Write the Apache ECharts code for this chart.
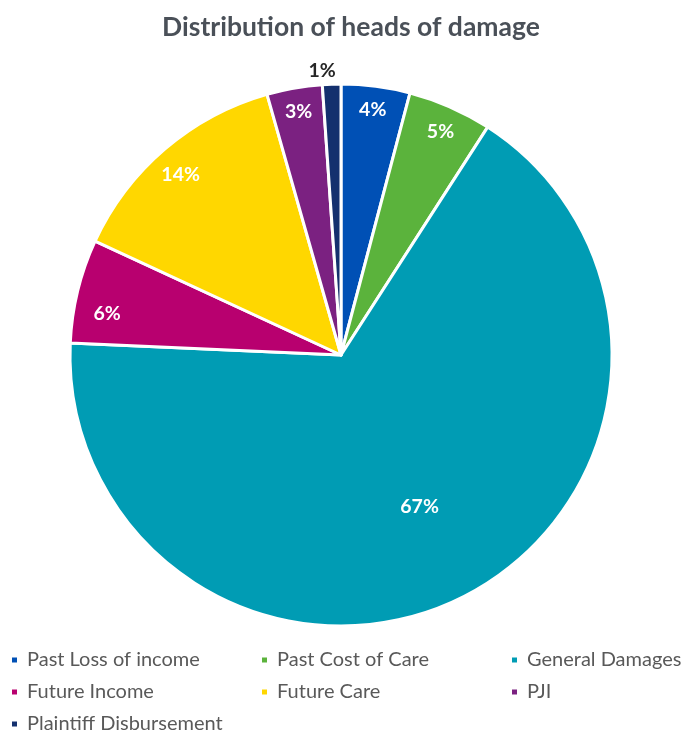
<!DOCTYPE html>
<html>
<head>
<meta charset="utf-8">
<script src="https://cdn.jsdelivr.net/npm/echarts@6/dist/echarts.min.js"></script>
<style>
  html, body { margin: 0; padding: 0; background: #ffffff; }
  #chart { width: 682px; height: 732px; }
</style>
</head>
<body>
<div id="chart"></div>
<script>
// Heads of damage and their share of the total award (%)
const categories = [
  'Past Loss of income',
  'Past Cost of Care',
  'General Damages',
  'Future Income',
  'Future Care',
  'PJI',
  'Plaintiff Disbursement'
];
const shares = [4.1, 5.0, 66.6, 6.2, 13.7, 3.3, 1.1];
const colors = ['#0050b5', '#5bb33c', '#009cb4', '#b8006f', '#ffd700', '#7b2181', '#14306e'];

// Legend columns (three-column grid under the pie)
const legendColumns = [
  ['Past Loss of income', 'Future Income', 'Plaintiff Disbursement'],
  ['Past Cost of Care', 'Future Care'],
  ['General Damages', 'PJI']
];

const FONT = 'Lato, "Open Sans", sans-serif';
const CENTER = [341, 355];
const R = 271;

// small nudges for a few labels so they sit clear of the slice edges
const labelNudge = {
  'Future Income': [6, 17],
  'Future Care': [0, 7],
  'Past Cost of Care': [0, 3],
  'Plaintiff Disbursement': [-9, 3]
};

const pieData = categories.map((name, i) => ({
  name,
  value: shares[i],
  itemStyle: { color: colors[i] }
}));

// Transparent ring used only to place labels at a chosen radius
function labelRing(inner, outer, showFor, labelColor) {
  return {
    type: 'pie',
    silent: true,
    startAngle: 90,
    clockwise: true,
    center: CENTER,
    radius: [inner, outer],
    percentPrecision: 0,
    avoidLabelOverlap: false,
    itemStyle: { color: 'rgba(0,0,0,0)', borderWidth: 0 },
    emphasis: { disabled: true },
    labelLine: { show: false },
    data: categories.map((name, i) => ({
      name,
      value: shares[i],
      itemStyle: { color: 'rgba(0,0,0,0)' },
      label: { show: showFor.includes(name), offset: labelNudge[name] || [0, 0] }
    })),
    label: {
      position: 'inside',
      formatter: '{d}%',
      color: labelColor,
      fontFamily: FONT,
      fontSize: 19.5,
      fontWeight: 'bold'
    }
  };
}

const chart = echarts.init(document.getElementById('chart'), null, { renderer: 'canvas' });

const legends = legendColumns.map((col, c) => ({
  orient: 'vertical',
  left: [5, 255, 505][c],
  top: 645,
  height: 110,
  data: col,
  icon: 'rect',
  itemWidth: 7,
  itemHeight: 7,
  itemGap: 12,
  selectedMode: false,
  textStyle: {
    fontFamily: FONT,
    fontSize: 20,
    lineHeight: 20,
    color: '#595959',
    padding: [0, 0, 0, 4]
  }
}));

chart.setOption({
  backgroundColor: '#ffffff',
  animation: false,
  title: {
    text: 'Distribution of heads of damage',
    left: 346,
    textAlign: 'center',
    top: 9,
    textStyle: {
      fontFamily: FONT,
      fontSize: 26.5,
      fontWeight: 'bold',
      color: '#4a5058'
    }
  },
  legend: legends,
  series: [
    {
      type: 'pie',
      startAngle: 90,
      clockwise: true,
      center: CENTER,
      radius: [0, R],
      percentPrecision: 0,
      data: pieData,
      itemStyle: { borderColor: '#ffffff', borderWidth: 3 },
      label: { show: false },
      labelLine: { show: false },
      emphasis: { scale: false }
    },
    labelRing(R * 0.82, R * 0.98,
      ['Past Loss of income', 'Past Cost of Care', 'Future Income', 'Future Care', 'PJI'], '#ffffff'),
    labelRing(R * 0.5, R * 0.74, ['General Damages'], '#ffffff'),
    labelRing(R * 1.0, R * 1.1, ['Plaintiff Disbursement'], '#262626')
  ]
});
</script>
</body>
</html>
